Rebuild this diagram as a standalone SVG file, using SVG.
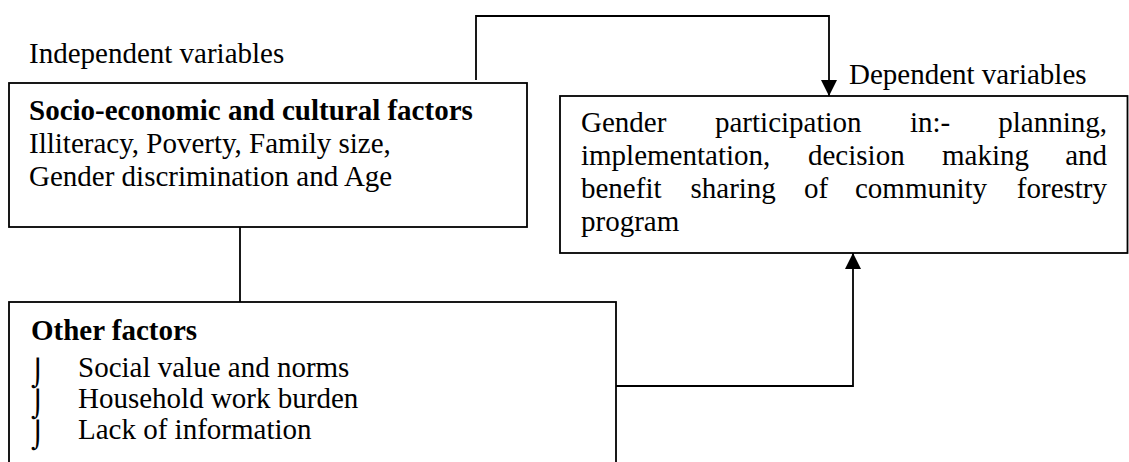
<svg xmlns="http://www.w3.org/2000/svg" width="1129" height="462" viewBox="0 0 1129 462">
<style>
text{font-family:"Liberation Serif","Times New Roman",serif;font-size:29px;fill:#000}
.b{font-weight:bold}
.box{fill:#fff;stroke:#000;stroke-width:1.8}
.ln{fill:none;stroke:#000;stroke-width:1.8}
.blt{font-family:"DejaVu Sans",sans-serif;font-size:26px}
</style>
<defs>
<marker id="ah" markerWidth="16" markerHeight="16" refX="16" refY="8" orient="auto" markerUnits="userSpaceOnUse">
<path d="M0,0 L16,8 L0,16 Z" fill="#000"/>
</marker>
</defs>
<rect width="1129" height="462" fill="#fff"/>
<text x="29" y="63">Independent variables</text>
<text x="849" y="84">Dependent variables</text>
<g id="node-socio">
<rect class="box" x="9" y="83" width="518" height="144"/>
<text class="b" x="29" y="119.5">Socio-economic and cultural factors</text>
<text x="29" y="152.5">Illiteracy, Poverty, Family size,</text>
<text x="29" y="185.5">Gender discrimination and Age</text>
</g>
<g id="node-dependent">
<rect class="box" x="560" y="96" width="567.5" height="157"/>
<text y="131.5"><tspan x="581">Gender</tspan><tspan x="715">participation</tspan><tspan x="910">in:-</tspan></text>
<text x="1107" y="131.5" text-anchor="end">planning,</text>
<text y="164.5"><tspan x="581">implementation,</tspan><tspan x="808">decision</tspan><tspan x="942">making</tspan></text>
<text x="1107" y="164.5" text-anchor="end">and</text>
<text y="197.5"><tspan x="581">benefit</tspan><tspan x="690.5">sharing</tspan><tspan x="804">of</tspan><tspan x="855">community</tspan></text>
<text x="1107" y="197.5" text-anchor="end">forestry</text>
<text x="581" y="230.5">program</text>
</g>
<g id="node-other">
<rect class="box" x="9" y="302" width="607" height="180"/>
<text class="b" x="31" y="340">Other factors</text>
<text class="blt" x="31" y="382">⌡</text>
<text x="78" y="377">Social value and norms</text>
<text class="blt" x="31" y="413">⌡</text>
<text x="78" y="408">Household work burden</text>
<text class="blt" x="31" y="444">⌡</text>
<text x="78" y="439">Lack of information</text>
</g>
<g id="connectors">
<path class="ln" d="M476,80 V16 H829 V96" marker-end="url(#ah)"/>
<path class="ln" d="M240,227 V302"/>
<path class="ln" d="M616,386 H853 V253" marker-end="url(#ah)"/>
</g>
</svg>
